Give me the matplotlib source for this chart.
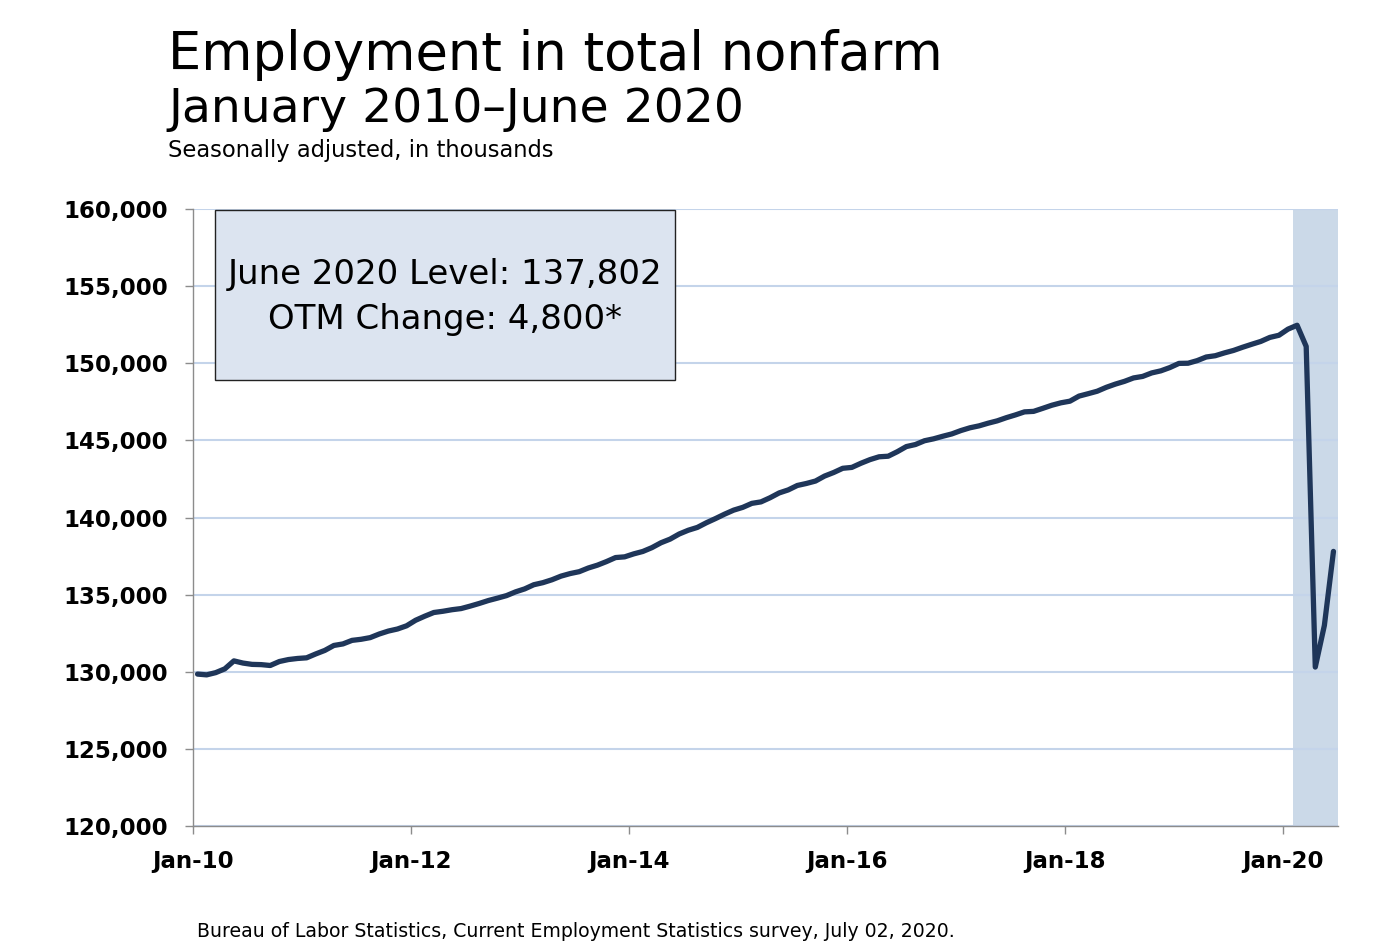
import matplotlib
matplotlib.use("Agg")
import matplotlib.pyplot as plt
from matplotlib.patches import Rectangle
import numpy as np

# Total nonfarm employment, seasonally adjusted, thousands (Jan 2010 - Jun 2020)
emp_2010 = [129848, 129798, 129943, 130188, 130705, 130563, 130478, 130462, 130406, 130663, 130791, 130861]
emp_2011 = [130903, 131153, 131382, 131704, 131804, 132034, 132105, 132213, 132448, 132638, 132771, 132978]
emp_2012 = [133339, 133601, 133841, 133921, 134022, 134096, 134255, 134428, 134617, 134772, 134936, 135180]
emp_2013 = [135371, 135641, 135775, 135963, 136200, 136365, 136488, 136726, 136909, 137142, 137403, 137449]
emp_2014 = [137642, 137798, 138046, 138363, 138598, 138930, 139174, 139357, 139661, 139931, 140217, 140478]
emp_2015 = [140658, 140917, 141012, 141280, 141592, 141788, 142076, 142206, 142363, 142686, 142917, 143190]
emp_2016 = [143248, 143516, 143753, 143936, 143973, 144264, 144598, 144731, 144976, 145101, 145266, 145418]
emp_2017 = [145636, 145816, 145941, 146114, 146266, 146471, 146650, 146848, 146880, 147075, 147276, 147434]
emp_2018 = [147541, 147870, 148025, 148186, 148439, 148648, 148826, 149048, 149146, 149373, 149507, 149721]
emp_2019 = [149991, 150001, 150170, 150405, 150489, 150671, 150830, 151037, 151229, 151414, 151675, 151814]
emp_2020 = [152212, 152463, 151090, 130303, 133002, 137802]

employment = (emp_2010 + emp_2011 + emp_2012 + emp_2013 + emp_2014 + emp_2015 +
              emp_2016 + emp_2017 + emp_2018 + emp_2019 + emp_2020)

x_tick_labels = ["Jan-10", "Jan-12", "Jan-14", "Jan-16", "Jan-18", "Jan-20"]
y_ticks = [120000, 125000, 130000, 135000, 140000, 145000, 150000, 155000, 160000]
recession_start_month = 121   # Feb 2020
recession_end_month = 126

title = "Employment in total nonfarm"
subtitle = "January 2010\u2013June 2020"
unit_note = "Seasonally adjusted, in thousands"
box_text = "June 2020 Level: 137,802\nOTM Change: 4,800*"
source = "Bureau of Labor Statistics, Current Employment Statistics survey, July 02, 2020."

plt.rcParams['font.family'] = ['DejaVu Sans']

W, H = 1385, 943
fig = plt.figure(figsize=(W / 100, H / 100), dpi=100)
ax = fig.add_axes([193 / W, 1 - 826 / H, (1338 - 193) / W, (826 - 209) / H])

months = np.arange(len(employment)) + 0.5
ax.axvspan(recession_start_month, recession_end_month, color="#cbd9e8", zorder=0.3, lw=0)
ax.plot(months, employment, color="#1f3659", lw=3.8, solid_joinstyle="round",
        solid_capstyle="round", zorder=3)

ax.set_xlim(0, 126)
ax.set_ylim(120000, 160000)
ax.set_yticks(y_ticks)
ax.set_yticklabels([f"{v:,}" for v in y_ticks])
ax.set_xticks(np.arange(len(x_tick_labels)) * 24)
ax.set_xticklabels(x_tick_labels)

ax.set_axisbelow(True)
ax.yaxis.grid(True, color="#c4d4ea", lw=1.5, zorder=0.5)
for s in ["top", "right"]:
    ax.spines[s].set_visible(False)
for s in ["left", "bottom"]:
    ax.spines[s].set_color("#8c8c8c")
    ax.spines[s].set_linewidth(1.0)
ax.tick_params(axis="both", colors="#8c8c8c", length=6, width=1.0, direction="out")
ax.tick_params(axis="y", labelcolor="black", labelsize=16.5, pad=12)
ax.tick_params(axis="x", labelcolor="black", labelsize=16.5, pad=11)
for lab in ax.get_xticklabels() + ax.get_yticklabels():
    lab.set_fontweight("bold")

# annotation box
x0 = (215 - 193) / 1145
x1 = (675 - 193) / 1145
y0 = (826 - 380) / 617
y1 = (826 - 210) / 617
ax.add_patch(Rectangle((x0, y0), x1 - x0, y1 - y0, transform=ax.transAxes,
                       facecolor="#dce4f0", edgecolor="#222222", lw=1.0, zorder=4))
ax.text((x0 + x1) / 2, (826 - 297) / 617, box_text, transform=ax.transAxes,
        ha="center", va="center", fontsize=24.5, linespacing=1.45, zorder=5)

fig.text(168 / W, 1 - 70 / H, title, fontsize=38, ha="left", va="baseline")
fig.text(168 / W, 1 - 122 / H, subtitle, fontsize=34, ha="left", va="baseline")
fig.text(168 / W, 1 - 157 / H, unit_note, fontsize=16.3, ha="left", va="baseline")
fig.text(197 / W, 1 - 937 / H, source, fontsize=13.6, ha="left", va="baseline")

fig.savefig("out.png", dpi=100, facecolor="white")
